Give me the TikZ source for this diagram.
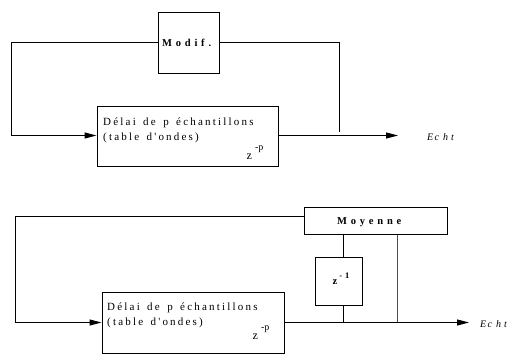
\documentclass[tikz,border=0pt]{standalone}
\usepackage{fontspec}
\setmainfont{Liberation Serif}
\usetikzlibrary{arrows.meta,calc}
\newfontfamily\spaced[LetterSpace=20,WordSpace=1.5]{Liberation Serif}
\newfontfamily\spacedb[LetterSpace=36]{Liberation Serif}
\newfontfamily\spacedi[LetterSpace=14]{Liberation Serif}
\begin{document}
\begin{tikzpicture}[x=1pt,y=-1pt,
  blockbox/.style={draw,line width=1pt,inner sep=0pt,minimum width=#1},
  wire/.style={line width=1pt},
  thinwire/.style={line width=0.6pt,black!70},
  arr/.style={-{Triangle[length=12pt,width=6pt]}},
  txt/.style={inner sep=0pt,anchor=base west,font=\fontsize{11}{13}\spaced},
  ztxt/.style={inner sep=0pt,anchor=base west,font=\fontsize{12}{13}\rmfamily},
  btxt/.style={inner sep=0pt,anchor=base west,font=\fontsize{10.5}{13}\spacedb\bfseries},
  itxt/.style={inner sep=0pt,anchor=base west,font=\fontsize{10}{12}\spacedi\itshape}]
\useasboundingbox (0,0) rectangle (511,354);
% ---------- top diagram ----------
\node[blockbox=61pt,minimum height=61pt] (m1) at (188.5,42.5) {};
\node[btxt] (m1t) at (162,46) {Modif.};
\node[blockbox=181pt,minimum height=60pt] (d1) at (187.5,136) {};
\node[txt] (d1a) at (103,125) {Délai de p échantillons};
\node[txt] (d1b) at (103,140.5) {(table d'ondes)};
\node[ztxt] (d1z) at (246.5,159.5) {z\hspace{3pt}\raisebox{9pt}{\fontsize{10}{11}\selectfont -p}};
\coordinate (c1) at (11.5,42.5);
\coordinate (tap1) at (339.5,132);
\coordinate (out1) at (398,135.5);
\node[itxt] (e1) at (427,140) {Ec h\hspace{3pt}t};
\draw[wire,arr] (m1.west) -- (c1) |- ([yshift=0.5pt]d1.west);
\draw[wire] (m1.east) -| (tap1);
\draw[wire,arr] ([yshift=0.5pt]d1.east) -- (out1);
% ---------- bottom diagram ----------
\node[blockbox=143pt,minimum height=27pt] (mo) at (375.5,220.5) {};
\node[btxt] (mot) at (337,224.5) {Moyenne};
\node[blockbox=47pt,minimum height=48pt] (zb) at (338.5,281) {};
\node[btxt] (zbt) at (332.5,284) {z\hspace{2pt}\raisebox{6pt}{\fontsize{8.5}{9}\selectfont -1}};
\node[blockbox=182pt,minimum height=61pt] (d2) at (193,323) {};
\node[txt] (d2a) at (107,310) {Délai de p échantillons};
\node[txt] (d2b) at (107,325) {(table d'ondes)};
\node[ztxt] (d2z) at (252.5,339) {z\hspace{3pt}\raisebox{9pt}{\fontsize{10}{11}\selectfont -p}};
\coordinate (c2) at (15.5,216.5);
\coordinate (tap2) at (397.5,322.5);
\coordinate (out2) at (469,322.5);
\node[itxt] (e2) at (480,327) {Ec h\hspace{3pt}t};
\draw[wire,arr] ([yshift=4pt]mo.west) -- (c2) |- ([yshift=0.5pt]d2.west);
\draw[wire] ([xshift=4.5pt]zb.north) -- ([xshift=4.5pt]zb.north |- mo.south);
\draw[wire] ([xshift=4.5pt]zb.south) -- ([xshift=4.5pt]zb.south |- tap2);
\draw[thinwire] (tap2 |- mo.south) -- (tap2);
\draw[wire,arr] (d2.east |- tap2) -- (out2);
\end{tikzpicture}
\end{document}
